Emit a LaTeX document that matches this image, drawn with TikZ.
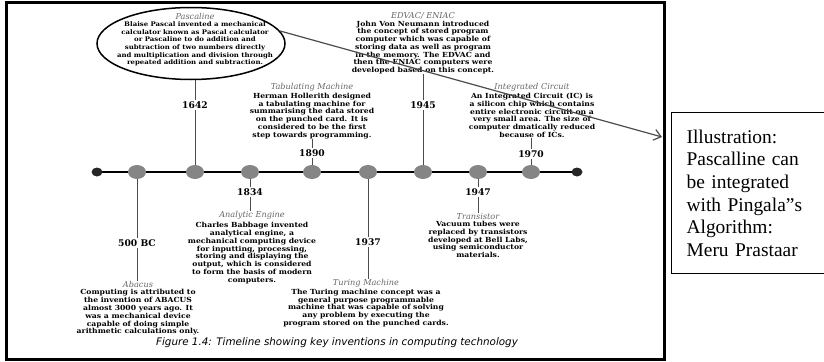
\documentclass[tikz,border=0pt]{standalone}
\usepackage{fontspec}
\setmainfont{DejaVu Serif}
\newfontfamily\bodyfont{DejaVu Serif}[FakeStretch=1.1]
\newfontfamily\illusfont{Liberation Serif}
\newfontfamily\captionfont{DejaVu Sans}
\usetikzlibrary{arrows.meta,positioning,shapes.geometric}

\begin{document}
\begin{tikzpicture}[x=10bp,y=-10bp,
    yeardot/.style={ellipse,fill=black!48,minimum width=18bp,minimum height=14bp,inner sep=0pt},
    enddot/.style={ellipse,fill=black!85,minimum width=11bp,minimum height=9bp,inner sep=0pt},
    yearlabel/.style={font=\bfseries\fontsize{9.2}{10}\selectfont,inner sep=1.5bp},
    invtitle/.style={font=\itshape\fontsize{8.2}{9}\selectfont,text=black!60,inner sep=0pt},
    invtext/.style={font=\bodyfont\bfseries\fontsize{7}{7.8}\selectfont,align=center,inner sep=0pt},
    link/.style={draw=black!70,line width=0.9bp}]
   \useasboundingbox (0,0) rectangle (82.4,36.2);
   % frame and side box
   \draw[line width=3bp] (0.65,0.25) rectangle (66.4,35.9);
   \node[draw,line width=1.2bp,anchor=north west,minimum width=190bp,minimum height=161bp,
         text width=160bp,inner xsep=14bp,align=left,
         font=\illusfont\fontsize{19.5}{22.6}\selectfont] (illus) at (67.1,11.2)
      {Illustration:\\ Pascalline can\\ be integrated\\ with Pingala”s\\ Algorithm:\\ Meru Prastaar};
   % time line
   \coordinate (tl) at (9.7,17.2);
   \coordinate (tr) at (57.7,17.2);
   \draw[line width=2bp] (tl) -- (tr);
   \node[enddot] (start) at (tl) {};
   \node[enddot] (end) at (tr) {};
   \foreach \name/\x in {bc/13.7, y1642/19.5, y1834/25.0, y1890/31.2, y1937/36.8, y1945/42.3, y1947/47.8, y1970/53.1}
      \node[yeardot] (\name) at (\x,17.2) {};
   % years
   \node[yearlabel] (l500) at (13.7,24.3) {500 BC};
   \node[yearlabel] (l1642) at (19.5,10.5) {1642};
   \node[yearlabel] (l1834) at (25.0,19.2) {1834};
   \node[yearlabel] (l1890) at (31.2,15.3) {1890};
   \node[yearlabel] (l1937) at (36.8,24.2) {1937};
   \node[yearlabel] (l1945) at (42.3,10.5) {1945};
   \node[yearlabel] (l1947) at (47.8,19.2) {1947};
   \node[yearlabel] (l1970) at (53.1,15.4) {1970};
   % Pascaline
   \node[draw,ellipse,line width=1.5bp,minimum width=188bp,minimum height=72bp] (pasc) at (19.1,4.35) {};
   \node[invtext,font=\bodyfont\bfseries\fontsize{6.35}{7.6}\selectfont] (pasctxt) at (19.5,4.4)
      {Blaise Pascal invented a mechanical\\ calculator known as Pascal calculator\\ or Pascaline to do addition and\\
       subtraction of two numbers directly\\ and multiplication and division through\\ repeated addition and subtraction.};
   \node[invtitle,above=1.5bp of pasctxt] (pascttl) {Pascaline};
   % Tabulating Machine
   \node[invtext] (tabtxt) at (31.2,11.6)
      {Herman Hollerith designed\\ a tabulating machine for\\ summarising the data stored\\
       on the punched card. It is\\ considered to be the first\\ step towards programming.};
   \node[invtitle,above=1.5bp of tabtxt] (tabttl) {Tabulating Machine};
   % EDVAC
   \node[invtext] (edvtxt) at (42.3,4.75)
      {John Von Neumann introduced\\ the concept of stored program\\ computer which was capable of\\
       storing data as well as program\\ in the memory. The EDVAC and\\ then the ENIAC computers were\\
       developed based on this concept.};
   \node[invtitle,above=1.5bp of edvtxt] (edvttl) {EDVAC/ ENIAC};
   % Integrated Circuit
   \node[invtext] (ictxt) at (53.2,11.55)
      {An Integrated Circuit (IC) is\\ a silicon chip which contains\\ entire electronic circuit on a\\
       very small area. The size of\\ computer dmatically reduced\\ because of ICs.};
   \node[invtitle,above=1.5bp of ictxt] (icttl) {Integrated Circuit};
   % Abacus
   \node[invtext] (abtxt) at (13.8,31.25)
      {Computing is attributed to\\ the invention of ABACUS\\ almost 3000 years ago. It\\
       was a mechanical device\\ capable of doing simple\\ arithmetic calculations only.};
   \node[invtitle,above=1.5bp of abtxt] (abttl) {Abacus};
   % Analytic Engine
   \node[invtext] (antxt) at (25.2,25.3)
      {Charles Babbage invented\\ analytical engine, a\\ mechanical computing device\\ for inputting, processing,\\
       storing and displaying the\\ output, which is considered\\ to form the basis of modern\\ computers.};
   \node[invtitle,above=2.5bp of antxt] (anttl) {Analytic Engine};
   % Turing Machine
   \node[invtext] (turtxt) at (36.6,30.8)
      {The Turing machine concept was a\\ general purpose programmable\\ machine that was capable of solving\\
       any problem by executing the\\ program stored on the punched cards.};
   \node[invtitle,above=1.5bp of turtxt] (turttl) {Turing Machine};
   % Transistor
   \node[invtext] (trtxt) at (47.8,23.95)
      {Vacuum tubes were\\ replaced by transistors\\ developed at Bell Labs,\\ using semiconductor\\ materials.};
   \node[invtitle,above=1.5bp of trtxt] (trttl) {Transistor};
   % connectors
   \draw[link] (bc) -- (l500);
   \draw[link] (l500) -- (l500 |- abttl.north);
   \draw[link] (l1642) -- (y1642);
   \draw[link] (l1642) -- (l1642 |- pasc.south);
   \draw[link] (y1834) -- (l1834);
   \draw[link] (l1834) -- (l1834 |- anttl.north);
   \draw[link] (l1890) -- (y1890);
   \draw[link] (l1890) -- (l1890 |- tabtxt.south);
   \draw[link] (y1937) -- (l1937);
   \draw[link] (l1937) -- (l1937 |- turttl.north);
   \draw[link] (l1945) -- (y1945);
   \draw[link] (l1945) -- (l1945 |- edvtxt.south);
   \draw[link] (y1947) -- (l1947);
   \draw[link] (l1947) -- (l1947 |- trttl.north);
   \draw[link] (l1970) -- (y1970);
   \draw[link] (l1970) -- (l1970 |- ictxt.south);
   % arrow to the illustration
   \coordinate (tip) at (66.2,13.7);
   \draw[black!70,line width=1.2bp,-{Straight Barb[length=7bp,width=11bp]}] (pasc.8) -- (tip);
   % caption
   \node[font=\captionfont\itshape\fontsize{10.4}{12}\selectfont] (caption) at (33.7,34.3)
      {Figure 1.4: Timeline showing key inventions in computing technology};
\end{tikzpicture}
\end{document}
